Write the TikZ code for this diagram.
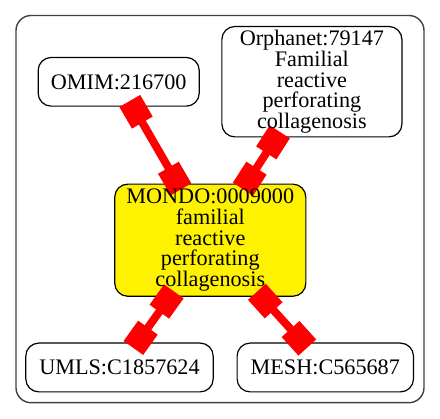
\documentclass[tikz,border=0pt]{standalone}
\usepackage{fontspec}
\setmainfont{Liberation Serif}
\usetikzlibrary{arrows.meta}
\pgfdeclarelayer{frames}
\pgfdeclarelayer{links}
\pgfsetlayers{frames,links,main}
\begin{document}
\begin{tikzpicture}[x=1pt,y=-1pt,
  termbox/.style={inner sep=0pt,align=center,font=\fontsize{22.2}{20.6}\selectfont},
  frame/.style={draw=black,line width=1.2pt,rounded corners=13pt,fill=white},
  mondoframe/.style={frame,fill=yellow},
  sqtip/.tip={Square[length=25pt,width=24pt]},
  link/.style={draw=red,line width=8pt,{sqtip}-{sqtip},shorten <=-6pt,shorten >=-6pt}
]
\useasboundingbox (0,0) rectangle (440,419);
\node[termbox,minimum width=160.7pt,minimum height=48.3pt] (omim) at (118.7,81.8) {OMIM:216700};
\node[termbox,minimum width=179.7pt,minimum height=110pt] (orpha) at (311.9,81.7) {Orphanet:79147\\Familial\\reactive\\perforating\\collagenosis};
\node[termbox,minimum width=190.7pt,minimum height=111.7pt] (mondo) at (210.3,240.2) {MONDO:0009000\\familial\\reactive\\perforating\\collagenosis};
\node[termbox,minimum width=187pt,minimum height=48.4pt] (umls) at (119.5,367.5) {UMLS:C1857624};
\node[termbox,minimum width=176pt,minimum height=48.4pt] (mesh) at (325.3,367.5) {MESH:C565687};
\begin{pgfonlayer}{frames}
\draw[line width=1.4pt,draw=black!75,rounded corners=15pt] (16,15.5) rectangle (424,402.7);
\draw[frame] (omim.north west) rectangle (omim.south east);
\draw[frame] (orpha.north west) rectangle (orpha.south east);
\draw[mondoframe] (mondo.north west) rectangle (mondo.south east);
\draw[frame] (umls.north west) rectangle (umls.south east);
\draw[frame] (mesh.north west) rectangle (mesh.south east);
\end{pgfonlayer}
\begin{pgfonlayer}{links}
\draw[link] (omim) -- (mondo);
\draw[link] (orpha) -- (mondo);
\draw[link] (mondo) -- (umls);
\draw[link] (mondo) -- (mesh);
\end{pgfonlayer}
\end{tikzpicture}
\end{document}
